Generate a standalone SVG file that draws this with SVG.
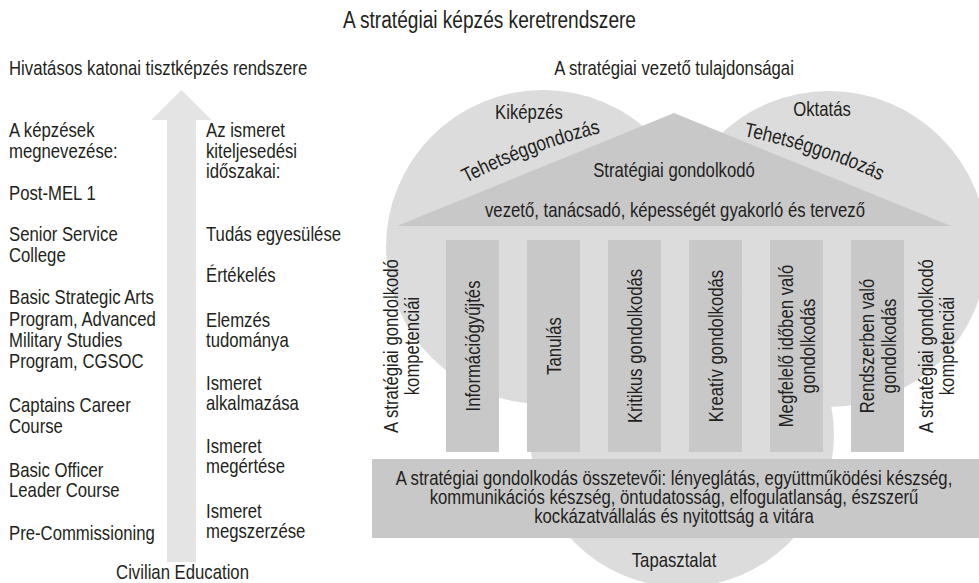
<svg xmlns="http://www.w3.org/2000/svg" width="979" height="583" viewBox="0 0 979 583">
<style>
text { font-family: 'Liberation Sans','Arial',sans-serif; font-size: 20.4px; fill: #231f20; }
.mid { text-anchor: middle; }
.title { font-size: 23.3px; }
.light { fill: #dcdcdd; }
.dark { fill: #c8c8c9; }
.arrow { fill: #e4e4e5; }
</style>
<defs>
<path id="arcL" d="M466,183 Q529.7,150.5 600,133 l29,-7"/>
<path id="arcR" d="M743.5,136 Q823.7,153.1 881,181 l27,13"/>
</defs>
<rect width="979" height="583" fill="#ffffff"/>
<text id="title" class="title mid" transform="translate(489.5,28) scale(0.82,1)">A stratégiai képzés keretrendszere</text>

<g id="left-panel">
<text transform="translate(9,75) scale(0.82,1)">Hivatásos katonai tisztképzés rendszere</text>
<polygon id="arrow" class="arrow" points="181.5,90 211.5,120 196,120 196,562 167,562 167,120 151.5,120"/>
<g id="courses">
<text transform="translate(9,137) scale(0.82,1)">A képzések</text>
<text transform="translate(9,158) scale(0.82,1)">megnevezése:</text>
<text transform="translate(9,200) scale(0.82,1)">Post-MEL 1</text>
<text transform="translate(9,241) scale(0.82,1)">Senior Service</text>
<text transform="translate(9,262) scale(0.82,1)">College</text>
<text transform="translate(9,304) scale(0.82,1)">Basic Strategic Arts</text>
<text transform="translate(9,326) scale(0.82,1)">Program, Advanced</text>
<text transform="translate(9,347) scale(0.82,1)">Military Studies</text>
<text transform="translate(9,368) scale(0.82,1)">Program, CGSOC</text>
<text transform="translate(9,412) scale(0.82,1)">Captains Career</text>
<text transform="translate(9,433) scale(0.82,1)">Course</text>
<text transform="translate(9,477) scale(0.82,1)">Basic Officer</text>
<text transform="translate(9,497) scale(0.82,1)">Leader Course</text>
<text transform="translate(9,540) scale(0.82,1)">Pre-Commissioning</text>
</g>
<g id="stages">
<text transform="translate(206,137) scale(0.82,1)">Az ismeret</text>
<text transform="translate(206,158) scale(0.82,1)">kiteljesedési</text>
<text transform="translate(206,178) scale(0.82,1)">időszakai:</text>
<text transform="translate(206,241) scale(0.82,1)">Tudás egyesülése</text>
<text transform="translate(206,282) scale(0.82,1)">Értékelés</text>
<text transform="translate(206,327) scale(0.82,1)">Elemzés</text>
<text transform="translate(206,347) scale(0.82,1)">tudománya</text>
<text transform="translate(206,390) scale(0.82,1)">Ismeret</text>
<text transform="translate(206,410) scale(0.82,1)">alkalmazása</text>
<text transform="translate(206,453) scale(0.82,1)">Ismeret</text>
<text transform="translate(206,473) scale(0.82,1)">megértése</text>
<text transform="translate(206,518) scale(0.82,1)">Ismeret</text>
<text transform="translate(206,538) scale(0.82,1)">megszerzése</text>
</g>
<text class="mid" transform="translate(182.5,578.5) scale(0.82,1)">Civilian Education</text>
</g>

<g id="right-panel">
<text class="mid" transform="translate(674,75) scale(0.82,1)">A stratégiai vezető tulajdonságai</text>
<g id="circle-kikepzes">
<circle class="light" cx="543" cy="247" r="157"/>
</g>
<g id="circle-oktatas">
<circle class="light" cx="829" cy="249" r="158"/>
</g>
<g id="circle-tapasztalat">
<circle class="light" cx="682" cy="435" r="152"/>
</g>
<text class="mid" transform="translate(529,119) scale(0.82,1)">Kiképzés</text>
<text class="mid" transform="translate(822,116) scale(0.82,1)">Oktatás</text>
<text><textPath href="#arcL" textLength="144" lengthAdjust="spacingAndGlyphs">Tehetséggondozás</textPath></text>
<text><textPath href="#arcR" textLength="144" lengthAdjust="spacingAndGlyphs">Tehetséggondozás</textPath></text>

<g id="roof">
<polygon class="dark" points="674,113 951,226 397,226"/>
<text class="mid" transform="translate(674,177) scale(0.82,1)">Stratégiai gondolkodó</text>
<text class="mid" transform="translate(675,217) scale(0.82,1)">vezető, tanácsadó, képességét gyakorló és tervező</text>
</g>

<g id="pillars">
<g id="pillar-1"><rect class="dark" x="446" y="240" width="53" height="212"/>
<text class="mid" transform="translate(480,346) rotate(-90) scale(0.82,1)">Információgyűjtés</text></g>
<g id="pillar-2"><rect class="dark" x="527" y="240" width="53" height="212"/>
<text class="mid" transform="translate(561,346) rotate(-90) scale(0.82,1)">Tanulás</text></g>
<g id="pillar-3"><rect class="dark" x="608" y="240" width="53" height="212"/>
<text class="mid" transform="translate(642,346) rotate(-90) scale(0.82,1)">Kritikus gondolkodás</text></g>
<g id="pillar-4"><rect class="dark" x="689" y="240" width="53" height="212"/>
<text class="mid" transform="translate(723,346) rotate(-90) scale(0.82,1)">Kreatív gondolkodás</text></g>
<g id="pillar-5"><rect class="dark" x="770" y="240" width="53" height="212"/>
<text class="mid" transform="translate(793,346) rotate(-90) scale(0.82,1)">Megfelelő időben való</text>
<text class="mid" transform="translate(815,346) rotate(-90) scale(0.82,1)">gondolkodás</text></g>
<g id="pillar-6"><rect class="dark" x="851" y="240" width="53" height="212"/>
<text class="mid" transform="translate(874,346) rotate(-90) scale(0.82,1)">Rendszerben való</text>
<text class="mid" transform="translate(896,346) rotate(-90) scale(0.82,1)">gondolkodás</text></g>
</g>

<g id="competencies-left">
<text class="mid" transform="translate(398,346) rotate(-90) scale(0.82,1)">A stratégiai gondolkodó</text>
<text class="mid" transform="translate(419,346) rotate(-90) scale(0.82,1)">kompetenciái</text>
</g>
<g id="competencies-right">
<text class="mid" transform="translate(933,346) rotate(-90) scale(0.82,1)">A stratégiai gondolkodó</text>
<text class="mid" transform="translate(954,346) rotate(-90) scale(0.82,1)">kompetenciái</text>
</g>

<g id="foundation">
<rect class="dark" x="372" y="459" width="607" height="79"/>
<text class="mid" transform="translate(674,485) scale(0.82,1)">A stratégiai gondolkodás összetevői: lényeglátás, együttműködési készség,</text>
<text class="mid" transform="translate(674,504) scale(0.82,1)">kommunikációs készség, öntudatosság, elfogulatlanság, észszerű</text>
<text class="mid" transform="translate(674,523) scale(0.82,1)">kockázatvállalás és nyitottság a vitára</text>
</g>
<text class="mid" transform="translate(674,567) scale(0.82,1)">Tapasztalat</text>
</g>
<g id="connectors"></g>
</svg>
